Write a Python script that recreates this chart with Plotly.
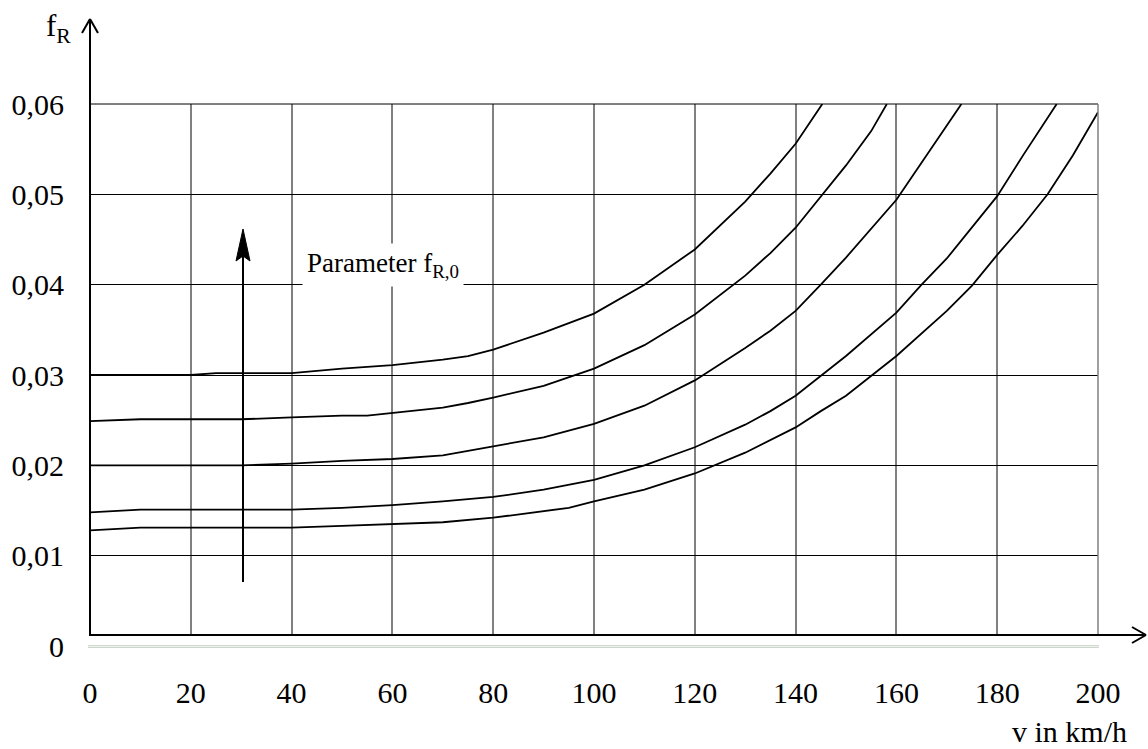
import plotly.graph_objects as go

# ---------------- data ----------------
v1 = [0, 10, 20, 25, 30, 40, 50, 60, 70, 75, 80, 90, 100, 110, 120, 130, 135, 140, 145.3]
f1 = [0.0300, 0.0300, 0.0300, 0.0302, 0.0302, 0.0302, 0.0307, 0.0311, 0.0317, 0.0321, 0.0328,
      0.0347, 0.0368, 0.0400, 0.0439, 0.0492, 0.0523, 0.0556, 0.0600]

v2 = [0, 10, 20, 30, 40, 50, 55, 60, 70, 75, 80, 90, 100, 110, 120, 130, 135, 140, 145, 150, 155, 158.1]
f2 = [0.0249, 0.0251, 0.0251, 0.0251, 0.0253, 0.0255, 0.0255, 0.0258, 0.0264, 0.0269, 0.0275,
      0.0288, 0.0307, 0.0333, 0.0367, 0.0410, 0.0435, 0.0463, 0.0498, 0.0532, 0.0570, 0.0600]

v3 = [0, 10, 20, 30, 40, 50, 60, 70, 80, 90, 100, 110, 120, 130, 135, 140, 145, 150, 160, 165, 170, 172.9]
f3 = [0.0200, 0.0200, 0.0200, 0.0200, 0.0202, 0.0205, 0.0207, 0.0211, 0.0221, 0.0231, 0.0246,
      0.0266, 0.0294, 0.0330, 0.0349, 0.0371, 0.0400, 0.0430, 0.0494, 0.0535, 0.0576, 0.0600]

v4 = [0, 10, 20, 30, 40, 50, 60, 70, 80, 90, 100, 110, 120, 130, 135, 140, 150, 160, 165, 170,
      180, 185, 190, 191.8]
f4 = [0.0148, 0.0151, 0.0151, 0.0151, 0.0151, 0.0153, 0.0156, 0.0160, 0.0165, 0.0173, 0.0184,
      0.0200, 0.0220, 0.0245, 0.0260, 0.0277, 0.0321, 0.0369, 0.0400, 0.0429, 0.0498, 0.0542,
      0.0584, 0.0600]

v5 = [0, 10, 20, 30, 40, 50, 60, 70, 80, 90, 95, 100, 110, 120, 130, 140, 145, 150, 160, 170,
      175, 180, 185, 190, 195, 200]
f5 = [0.0128, 0.0131, 0.0131, 0.0131, 0.0131, 0.0133, 0.0135, 0.0137, 0.0142, 0.0149, 0.0153,
      0.0160, 0.0173, 0.0191, 0.0214, 0.0242, 0.0260, 0.0277, 0.0321, 0.0371, 0.0399, 0.0433,
      0.0465, 0.0500, 0.0543, 0.0591]

x_ticks = [0, 20, 40, 60, 80, 100, 120, 140, 160, 180, 200]
x_ticktext = ["0", "20", "40", "60", "80", "100", "120", "140", "160", "180", "200"]
y_ticks = [0, 0.01, 0.02, 0.03, 0.04, 0.05, 0.06]
y_ticktext = ["0", "0,01", "0,02", "0,03", "0,04", "0,05", "0,06"]

# ---------------- layout geometry ----------------
W, H = 1148, 749
L, R, T, B = 90, 1098, 104, 646   # plot area in pixels

def px(p):
    return (p - L) / (R - L)

def py(p):
    return (B - p) / (B - T)

FONT = "Liberation Serif, Times New Roman, serif"
FS = 30

fig = go.Figure()
for v, f in [(v1, f1), (v2, f2), (v3, f3), (v4, f4), (v5, f5)]:
    fig.add_trace(go.Scatter(x=v, y=f, mode="lines",
                             line=dict(color="black", width=1.8),
                             showlegend=False, hoverinfo="skip"))

shapes = []
def pline(x0, y0, x1, y1, color="black", width=2):
    shapes.append(dict(type="line", xref="paper", yref="paper",
                       x0=px(x0), y0=py(y0), x1=px(x1), y1=py(y1),
                       line=dict(color=color, width=width), layer="above"))

# cover gridlines below the drawn x-axis
shapes.append(dict(type="rect", xref="paper", yref="paper",
                   x0=px(91), x1=px(1101), y0=py(650), y1=py(636),
                   fillcolor="white", line=dict(width=0), layer="above"))
# faint double line at zero
pline(88, 645.7, 1099, 645.7, color="#c8d2c8", width=1)
pline(88, 647.4, 1099, 647.4, color="#c8d2c8", width=1)
# top and right border
pline(L, T, R, T, color="black", width=1)
pline(R, T, R, 635, color="#808080", width=1.5)
# x axis with open arrow
pline(L, 635, 1146, 635, width=2)
pline(1132, 627, 1146, 635, width=2)
pline(1132, 643, 1146, 635, width=2)
# y axis with open arrow
pline(L, 636, L, 19, width=2)
pline(82, 33, L, 19, width=2)
pline(98, 33, L, 19, width=2)
# parameter arrow
pline(243, 582, 243, 255, width=2)
shapes.append(dict(type="path", xref="paper", yref="paper",
                   path="M {} {} L {} {} L {} {} L {} {} Z".format(
                       px(236), py(261), px(243), py(229), px(250), py(261), px(243), py(256)),
                   fillcolor="black", line=dict(color="black", width=1), layer="above"))

annotations = [
    dict(text="f<sub>R</sub>", xref="paper", yref="paper", x=px(44), y=py(28),
         xanchor="left", yanchor="middle", showarrow=False,
         font=dict(family=FONT, size=FS + 1, color="black")),
    dict(text="v in km/h", xref="paper", yref="paper", x=px(1129), y=py(731),
         xanchor="right", yanchor="middle", showarrow=False,
         font=dict(family=FONT, size=FS, color="black")),
    dict(text="Parameter f<sub>R,0</sub>", xref="paper", yref="paper", x=px(302), y=py(265),
         xanchor="left", yanchor="middle", showarrow=False, bgcolor="white", borderpad=4,
         font=dict(family=FONT, size=27, color="black")),
]

fig.update_layout(
    width=W, height=H, autosize=False,
    margin=dict(l=L, r=W - R, t=T, b=H - B, pad=0, autoexpand=False),
    paper_bgcolor="white", plot_bgcolor="white",
    font=dict(family=FONT, size=FS, color="black"),
    shapes=shapes, annotations=annotations, showlegend=False,
    xaxis=dict(range=[0, 200], tickvals=x_ticks, ticktext=x_ticktext,
               showgrid=True, gridcolor="#808080", gridwidth=1.5, automargin=False,
               zeroline=False, showline=False, ticks="outside", ticklen=20,
               tickcolor="rgba(0,0,0,0)", tickfont=dict(family=FONT, size=FS),
               fixedrange=True),
    yaxis=dict(range=[0, 0.06], tickvals=y_ticks, ticktext=y_ticktext,
               showgrid=True, gridcolor="black", gridwidth=1, automargin=False,
               zeroline=False, showline=False, ticks="outside", ticklen=19,
               tickcolor="rgba(0,0,0,0)", tickfont=dict(family=FONT, size=FS),
               fixedrange=True),
)

fig.write_html("out.html", config={"displayModeBar": False},
               post_script="document.body.style.margin='0';")
